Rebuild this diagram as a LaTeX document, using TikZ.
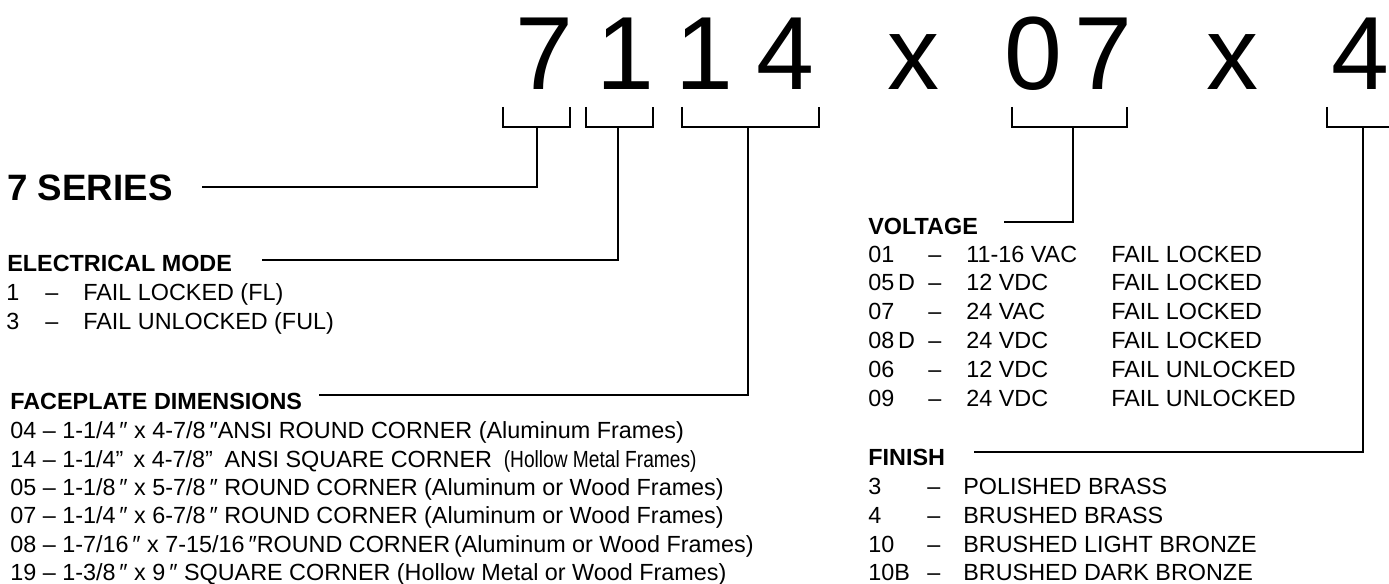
\documentclass[tikz,border=0pt]{standalone}
\usepackage{fontspec}
\setmainfont{Liberation Sans}
\newfontfamily\narrowfont[FakeStretch=0.82]{Liberation Sans}

\begin{document}
\begin{tikzpicture}[
    x=0.02cm, y=-0.02cm,
    digit/.style={anchor=base, inner sep=0pt, font=\fontsize{59.2}{60}\selectfont},
    title/.style={anchor=base west, inner sep=0pt, font=\fontsize{20.9}{24}\selectfont\bfseries},
    head/.style={anchor=base west, inner sep=0pt, font=\fontsize{13.3}{16}\selectfont\bfseries},
    entry/.style={anchor=base west, inner sep=0pt, font=\fontsize{13.3}{16}\selectfont},
    bracket/.style={line width=1.2pt},
    lead/.style={line width=1.2pt}
]

\useasboundingbox (0,0) rectangle (1389,584);
\clip (0,0) rectangle (1389,584);

% Part number
\node[digit] (dseries) at (544,90) {7};
\node[digit] (dmode) at (625,90) {1};
\node[digit] (dplatea) at (704,90) {1};
\node[digit] (dplateb) at (785,90) {4};
\node[digit] (xa) at (913,90) {x};
\node[digit] (dvolta) at (1033,90) {0};
\node[digit] (dvoltb) at (1103,90) {7};
\node[digit] (xb) at (1232,90) {x};
\node[digit] (dfinish) at (1360,90) {4};

% Brackets
\draw[bracket] (503,107) |- (570,127) -- (570,107);
\draw[bracket] (586,107) |- (653,127) -- (653,107);
\draw[bracket] (682,107) |- (819,127) -- (819,107);
\draw[bracket] (1012,107) |- (1127,127) -- (1127,107);
\draw[bracket] (1327,107) |- (1400,127) -- (1400,107);
\coordinate (b1) at (537,127);
\coordinate (b2) at (618,127);
\coordinate (b3) at (748,127);
\coordinate (b4) at (1073,127);
\coordinate (b5) at (1363,127);

% Series
\node[title] (series) at (7,201) {7 SERIES};

% Electrical mode
\node[head] (mode) at (7,272) {ELECTRICAL MODE};
\node[entry] (modecodea) at (6,300) {1};
\node[entry] (modedasha) at (45,300) {–};
\node[entry] (modetexta) at (83,300) {FAIL LOCKED (FL)};
\node[entry] (modecodeb) at (6,329) {3};
\node[entry] (modedashb) at (45,329) {–};
\node[entry] (modetextb) at (83,329) {FAIL UNLOCKED (FUL)};

% Faceplate dimensions
\node[head] (plate) at (10,409) {FACEPLATE DIMENSIONS};
\node[entry] (platea) at (10,438) {04 – 1-1/4\,″ x 4-7/8\,″ANSI ROUND CORNER (Aluminum Frames)};
\node[entry] (plateb) at (10,467) {14 – 1-1/4”\, x 4-7/8”\enspace ANSI SQUARE CORNER\enspace{\narrowfont(Hollow Metal Frames)}};
\node[entry] (platec) at (10,495) {05 – 1-1/8\,″ x 5-7/8\,″ ROUND CORNER (Aluminum or Wood Frames)};
\node[entry] (plated) at (10,523) {07 – 1-1/4\,″ x 6-7/8\,″ ROUND CORNER (Aluminum or Wood Frames)};
\node[entry] (platee) at (10,552) {08 – 1-7/16\,″ x 7-15/16\,″ROUND CORNER\,(Aluminum or Wood Frames)};
\node[entry] (platef) at (10,580) {19 – 1-3/8\,″ x 9\,″ SQUARE CORNER (Hollow Metal or Wood Frames)};

% Voltage
\node[head] (volt) at (868,235) {VOLTAGE};
\node[entry] (voltcodea) at (868,262) {01};
\node[entry] (voltcodeb) at (868,290) {05\,D};
\node[entry] (voltcodec) at (868,319) {07};
\node[entry] (voltcoded) at (868,348) {08\,D};
\node[entry] (voltcodee) at (868,377) {06};
\node[entry] (voltcodef) at (868,406) {09};
\node[entry] (voltdasha) at (928,262) {–};
\node[entry] (voltdashb) at (928,290) {–};
\node[entry] (voltdashc) at (928,319) {–};
\node[entry] (voltdashd) at (928,348) {–};
\node[entry] (voltdashe) at (928,377) {–};
\node[entry] (voltdashf) at (928,406) {–};
\node[entry] (voltvaluea) at (966,262) {11-16 VAC};
\node[entry] (voltvalueb) at (966,290) {12 VDC};
\node[entry] (voltvaluec) at (966,319) {24 VAC};
\node[entry] (voltvalued) at (966,348) {24 VDC};
\node[entry] (voltvaluee) at (966,377) {12 VDC};
\node[entry] (voltvaluef) at (966,406) {24 VDC};
\node[entry] (voltmodea) at (1111,262) {FAIL LOCKED};
\node[entry] (voltmodeb) at (1111,290) {FAIL LOCKED};
\node[entry] (voltmodec) at (1111,319) {FAIL LOCKED};
\node[entry] (voltmoded) at (1111,348) {FAIL LOCKED};
\node[entry] (voltmodee) at (1111,377) {FAIL UNLOCKED};
\node[entry] (voltmodef) at (1111,406) {FAIL UNLOCKED};

% Finish
\node[head] (finish) at (868,465) {FINISH};
\node[entry] (fincodea) at (868,494) {3};
\node[entry] (fincodeb) at (868,523) {4};
\node[entry] (fincodec) at (868,552) {10};
\node[entry] (fincoded) at (868,580) {10B};
\node[entry] (findasha) at (927,494) {–};
\node[entry] (findashb) at (927,523) {–};
\node[entry] (findashc) at (927,552) {–};
\node[entry] (findashd) at (927,580) {–};
\node[entry] (fintexta) at (963,494) {POLISHED BRASS};
\node[entry] (fintextb) at (963,523) {BRUSHED BRASS};
\node[entry] (fintextc) at (963,552) {BRUSHED LIGHT BRONZE};
\node[entry] (fintextd) at (963,580) {BRUSHED DARK BRONZE};

% Leaders
\draw[lead] (series.base east) ++(29,-14) -| (b1);
\draw[lead] (mode.base east) ++(30,-12) -| (b2);
\draw[lead] (plate.base east) ++(17,-14) -| (b3);
\draw[lead] (volt.base east) ++(26,-13) -| (b4);
\draw[lead] (finish.base east) ++(29,-13) -| (b5);

\end{tikzpicture}
\end{document}
